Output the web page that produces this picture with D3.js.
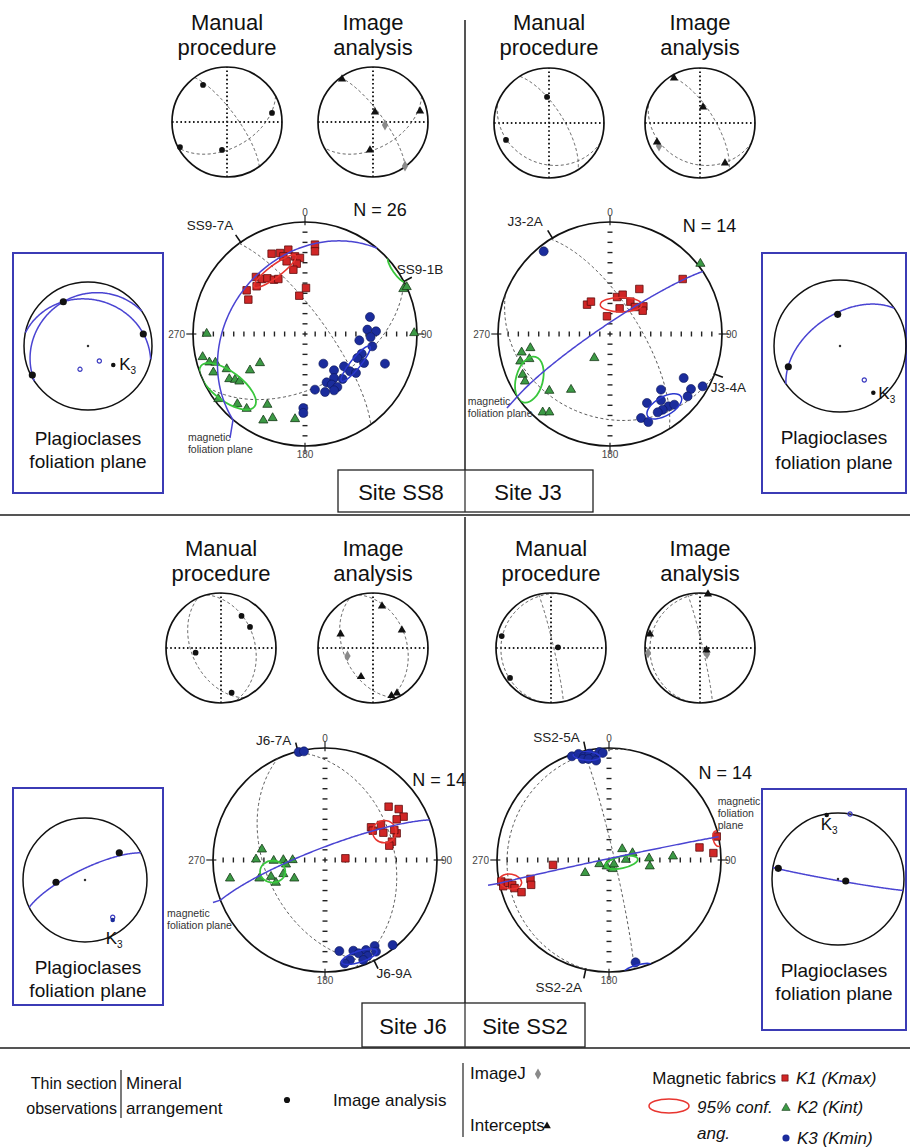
<!DOCTYPE html>
<html>
<head>
<meta charset="utf-8">
<script src="https://cdn.jsdelivr.net/npm/d3@7"></script>
<style>
  body { margin: 0; background: #fff; }
  svg { display: block; font-family: "Liberation Sans", Arial, sans-serif; }
</style>
</head>
<body>
<svg id="fig" width="910" height="1148"></svg>
<script>
// ---------------------------------------------------------------------------
// Data: point positions are given on the unit equal-area net (x = east, y = north);
// planes are [dip direction, dip] in degrees.
// ---------------------------------------------------------------------------

// Site SS8
const k1_SS8 = [[0.089,0.798],[0.089,0.738],[-0.149,0.753],[-0.223,0.723],[-0.298,0.717],[-0.193,0.693],
  [-0.089,0.693],[-0.045,0.679],[-0.164,0.649],[-0.074,0.628],[-0.104,0.574],[-0.438,0.509],[-0.387,0.491],
  [-0.336,0.497],[-0.277,0.485],[-0.238,0.491],[-0.432,0.426],[-0.521,0.390],[-0.506,0.307],[0.009,0.411],[-0.051,0.342]];
const k2_SS8 = [[-0.914,-0.205],[-0.854,-0.253],[-0.80,-0.255],[-0.818,-0.342],[-0.699,-0.313],[-0.676,-0.402],
  [-0.625,-0.408],[-0.586,-0.423],[-0.491,-0.324],[-0.402,-0.259],[-0.774,-0.580],[-0.604,-0.625],[-0.521,-0.667],
  [-0.336,-0.631],[-0.372,-0.771],[-0.289,-0.750],[-0.089,-0.759],[-0.878,0.003],[0.975,0.009],[0.878,0.402],[0.908,0.420]];
const k3_SS8 = [[0.580,0.152],[0.557,0.039],[0.634,0.024],[0.586,-0.027],[0.485,-0.057],[0.601,-0.110],[0.506,-0.176],
  [0.467,-0.214],[0.527,-0.259],[0.714,-0.265],[0.164,-0.265],[0.259,-0.324],[0.348,-0.289],[0.402,-0.333],[0.455,-0.348],
  [0.259,-0.393],[0.336,-0.402],[0.193,-0.432],[0.238,-0.452],[0.289,-0.473],[0.089,-0.497],[0.179,-0.518],[0.259,-0.503],
  [-0.015,-0.661],[-0.015,-0.705]];
// confidence ellipses: [kind, centre x, centre y, semi-major, semi-minor, angle of major axis (deg, ccw from east)]
const conf_SS8 = [["K1",-0.268,0.56,0.233,0.054,37],["K3",0.452,-0.265,0.20,0.045,51],
  ["K2",-0.69,-0.467,0.30,0.13,-37],["K2",0.819,0.574,0.13,0.035,-55]];
const planes_SS8 = [[54,75],[152,51]];
const foliation_SS8 = [310,33];

// Site J3
const k1_J3 = [[-0.205,0.262],[-0.170,0.289],[-0.027,0.158],[0.063,0.330],[0.113,0.351],[0.086,0.229],[0.182,0.289],
  [0.262,0.402],[0.223,0.241],[0.298,0.247],[0.292,0.208],[0.649,0.491]];
const k2_J3 = [[-0.789,-0.164],[-0.711,-0.125],[-0.801,-0.244],[-0.720,-0.223],[-0.780,-0.363],[-0.759,-0.423],
  [-0.542,-0.506],[-0.348,-0.497],[-0.140,-0.214],[-0.601,-0.699],[-0.542,-0.699],[0.807,0.628]];
const k3_J3 = [[-0.592,0.738],[0.658,-0.393],[0.455,-0.497],[0.723,-0.491],[0.827,-0.467],[0.693,-0.557],[0.330,-0.616],
  [0.455,-0.592],[0.521,-0.646],[0.470,-0.676],[0.426,-0.699],[0.277,-0.750],[0.342,-0.786],[0.574,-0.631]];
const conf_J3 = [["K1",0.098,0.262,0.185,0.065,0],["K2",-0.72,-0.408,0.21,0.12,75],["K3",0.485,-0.646,0.173,0.083,30]];
const planes_J3 = [[58,69],[201,26]];
const foliation_J3 = [326,83];

// Site J6
const k1_J6 = [[0.568,0.476],[0.658,0.455],[0.702,0.387],[0.640,0.363],[0.411,0.292],[0.500,0.313],[0.521,0.244],
  [0.640,0.238],[0.598,0.164],[0.574,0.128],[0.182,0.015],[0.426,0.262],[0.619,0.268]];
const k2_J6 = [[-0.563,0.095],[-0.616,0.006],[-0.458,-0.006],[-0.372,0],[-0.289,0],[-0.348,-0.039],[-0.848,-0.164],
  [-0.586,-0.164],[-0.482,-0.149],[-0.438,-0.202],[-0.372,-0.125],[-0.274,-0.164]];
const k3_J6 = [[-0.235,0.964],[-0.188,0.970],[0.128,-0.813],[0.253,-0.810],[0.301,-0.833],[0.366,-0.804],[0.443,-0.768],
  [0.604,-0.759],[0.455,-0.818],[0.381,-0.857],[0.342,-0.893],[0.223,-0.893],[0.176,-0.923]];
const conf_J6 = [["K1",0.530,0.253,0.105,0.10,0],["K2",-0.467,-0.104,0.113,0.098,0],["K3",0.307,-0.863,0.165,0.05,18]];
const planes_J6 = [[75,38],[245,46]];
const foliation_J6 = [339,81];

// Site SS2
const k1_SS2 = [[-0.962,-0.192],[-0.944,-0.234],[-0.902,-0.204],[-0.864,-0.222],[-0.843,-0.251],[-0.781,-0.287],
  [-0.701,-0.169],[-0.695,-0.222],[-0.5,-0.044],[0.808,0.112],[0.932,0.062],[0.962,0.210]];
const k2_SS2 = [[0.118,0.098],[0.210,0.062],[-0.086,-0.036],[-0.021,-0.056],[0.033,-0.080],[0.151,0.003],[0.358,0.015],
  [0.364,-0.056],[0.571,0.033],[-0.213,-0.115],[0.044,-0.038]];
const k3_SS2 = [[-0.331,0.926],[-0.272,0.947],[-0.222,0.926],[-0.175,0.950],[-0.127,0.926],[-0.086,0.964],[-0.056,0.956],
  [-0.234,0.902],[-0.183,0.902],[-0.115,0.888],[0.237,-0.914]];
const conf_SS2 = [["K1",-0.879,-0.192,0.10,0.065,-10],["K1",0.965,0.19,0.07,0.035,102],["K2",0.112,-0.021,0.148,0.053,12],
  ["K3",-0.2,0.93,0.12,0.04,-5],["K3",0.259,-0.966,0.12,0.03,15]];
const planes_SS2 = [[77,86],[280,10]];
const foliation_SS2 = [348,89];

// Thin-section lineations: manual procedure (dots), image analysis (intercepts = triangles, ImageJ = diamonds)
const manual_SS8 = [[-0.436,0.673],[0.818,0.164],[-0.855,-0.455],[-0.091,-0.509]];
const intercepts_SS8 = [[-0.564,0.782],[0.036,0.182],[0.855,0.2],[-0.055,-0.509]];
const imagej_SS8 = [[0.218,-0.055],[0.582,-0.8]];
const manual_J3 = [[-0.036,0.473],[-0.782,-0.309]];
const intercepts_J3 = [[-0.473,0.818],[0.055,0.291],[-0.782,-0.345],[0.455,-0.727]];
const imagej_J3 = [[-0.745,-0.418]];
const manual_J6 = [[0.373,0.582],[0.527,0.382],[-0.462,-0.085],[0.193,-0.813]];
const intercepts_J6 = [[0.164,0.764],[0.525,0.327],[-0.589,0.255],[-0.218,-0.522],[0.336,-0.867],[0.436,-0.818]];
const imagej_J6 = [[-0.464,-0.145]];
const manual_SS2 = [[-0.896,0.218],[0.127,0.013],[-0.745,-0.545]];
const intercepts_SS2 = [[0.145,0.98],[-0.91,0.255],[0.118,-0.036]];
const imagej_SS2 = [[-0.945,-0.091],[0.127,-0.109]];

// Plagioclase foliation planes (insets)
const plag_SS8 = {lineations:[[-0.386,0.692],[0.864,0.188],[-0.87,-0.453]], open:[[0.177,-0.234],[-0.125,-0.364]],
  k3:[0.395,-0.297], planes:[[12,28],[327,22]]};
const plag_J3 = {lineations:[[-0.035,0.48],[-0.783,-0.314]], open:[[0.368,-0.515]], k3:[0.505,-0.708], planes:[[325,52]]};
const plag_J6 = {lineations:[[0.553,0.44],[-0.468,-0.037]], open:[[0.447,-0.60]], k3:[0.447,-0.645], planes:[[334,76]]};
const plag_SS2 = {lineations:[[-0.905,0.162],[0.117,-0.03]], open:[[0.182,0.985]], k3:[-0.171,0.97], planes:[[190,88]]};

// Sample labels on the main nets: [text, azimuth of tick, label x, label y, anchor]
const samples_SS8 = [["SS9-7A",325,-0.64,0.93,"end"],["SS9-1B",62,0.82,0.54,"start"]];
const samples_J3 = [["J3-2A",329,-0.6,0.96,"end"],["J3-4A",111,0.9,-0.52,"start"]];
const samples_J6 = [["J6-7A",346,-0.3,1.03,"end"],["J6-9A",154,0.46,-1.05,"start"]];
const samples_SS2 = [["SS2-5A",348,-0.26,1.05,"end"],["SS2-2A",192,-0.24,-1.18,"end"]];

const sampleCount = {SS8:26, J3:14, J6:14, SS2:14};
const directionLabels = ["0","90","180","270"];

// ---------------------------------------------------------------------------
// Layout
// ---------------------------------------------------------------------------
const sites = [
  {id:"SS8", k1:k1_SS8, k2:k2_SS8, k3:k3_SS8, conf:conf_SS8, planes:planes_SS8, fol:foliation_SS8,
   samples:samples_SS8, manual:manual_SS8, inter:intercepts_SS8, ij:imagej_SS8, plag:plag_SS8,
   net:{cx:305, cy:334, r:112}, nLab:[0.43,1.05], folLab:{at:[-1.045,-0.955], lines:["magnetic","foliation plane"], lead:[-0.67,-0.93]},
   small:[{cx:227, cy:122},{cx:373, cy:122}], titleY:[30,55],
   inset:{x:13, y:253, w:150, h:240, cx:88, cy:346, r:64, textY:[445,468], k3Lab:[6,5]}},
  {id:"J3", k1:k1_J3, k2:k2_J3, k3:k3_J3, conf:conf_J3, planes:planes_J3, fol:foliation_J3,
   samples:samples_J3, manual:manual_J3, inter:intercepts_J3, ij:imagej_J3, plag:plag_J3,
   net:{cx:610, cy:334, r:112}, nLab:[0.65,0.91], folLab:{at:[-1.27,-0.63], lines:["magnetic","foliation plane"], lead:[-0.92,-0.66]},
   small:[{cx:549, cy:123},{cx:700, cy:123}], titleY:[30,55],
   inset:{x:762, y:253, w:144, h:240, cx:840, cy:346, r:66, textY:[444,469], k3Lab:[5,6]}},
  {id:"J6", k1:k1_J6, k2:k2_J6, k3:k3_J6, conf:conf_J6, planes:planes_J6, fol:foliation_J6,
   samples:samples_J6, manual:manual_J6, inter:intercepts_J6, ij:imagej_J6, plag:plag_J6,
   net:{cx:325, cy:860, r:112}, nLab:[0.78,0.66], folLab:{at:[-1.41,-0.51], lines:["magnetic","foliation plane"], lead:[-1.0,-0.38]},
   small:[{cx:221, cy:648},{cx:373, cy:648}], titleY:[556,581],
   inset:{x:13, y:788, w:150, h:217, cx:85, cy:880, r:62, textY:[974,997], k3Lab:[-7,24]}},
  {id:"SS2", k1:k1_SS2, k2:k2_SS2, k3:k3_SS2, conf:conf_SS2, planes:planes_SS2, fol:foliation_SS2,
   samples:samples_SS2, manual:manual_SS2, inter:intercepts_SS2, ij:imagej_SS2, plag:plag_SS2,
   net:{cx:609, cy:860, r:112}, nLab:[0.8,0.72], folLab:{at:[0.97,0.49], lines:["magnetic","foliation","plane"], lead:[-1.08,-0.225]},
   small:[{cx:551, cy:648},{cx:700, cy:648}], titleY:[556,581],
   inset:{x:762, y:789, w:144, h:241, cx:838, cy:879, r:66, textY:[977,1000], k3Lab:[-6,15]}}
];

const C = {
  k1Fill:"#d02626", k1Stroke:"#5e0c0c",
  k2Fill:"#3c9a45", k2Stroke:"#163818",
  k3Fill:"#1b2c9c", k3Stroke:"#0b1555",
  confK1:"#e8352f", confK2:"#39c63c", confK3:"#2b38cf",
  plane:"#4a44d2", dashed:"#555", frame:"#3b3bb5", rule:"#555"
};

const svg = d3.select("#fig");
const defs = svg.append("defs");
const rad = Math.PI / 180;

// Lower-hemisphere equal-area trace of a plane given by dip direction / dip.
function greatCircle(dipDir, dip, n = 180) {
  const st = (dipDir - 90) * rad, dd = dipDir * rad, dp = dip * rad;
  const s = [Math.sin(st), Math.cos(st)];
  const d = [Math.sin(dd) * Math.cos(dp), Math.cos(dd) * Math.cos(dp), Math.sin(dp)];
  return d3.range(n + 1).map(i => {
    const l = Math.PI * i / n;
    const x = Math.cos(l) * s[0] + Math.sin(l) * d[0];
    const y = Math.cos(l) * s[1] + Math.sin(l) * d[1];
    const z = Math.sin(l) * d[2];
    const k = 1 / Math.sqrt(1 + z);
    return [x * k, y * k];
  });
}
const onRim = az => [Math.sin(az * rad), Math.cos(az * rad)];

function netScales(cx, cy, r) {
  return {
    x: d3.scaleLinear().domain([-1, 1]).range([cx - r, cx + r]),
    y: d3.scaleLinear().domain([-1, 1]).range([cy + r, cy - r])
  };
}

const sym = (type, size) => d3.symbol().type(type).size(size);

// ---------------------------------------------------------------------------
// Frame: rules, site boxes
// ---------------------------------------------------------------------------
svg.append("line").attr("x1",0).attr("x2",910).attr("y1",515).attr("y2",515).attr("stroke",C.rule).attr("stroke-width",2);
svg.append("line").attr("x1",0).attr("x2",910).attr("y1",1048).attr("y2",1048).attr("stroke",C.rule).attr("stroke-width",2);
svg.append("line").attr("x1",465).attr("x2",465).attr("y1",20).attr("y2",470).attr("stroke",C.rule).attr("stroke-width",2);
svg.append("line").attr("x1",465).attr("x2",465).attr("y1",517).attr("y2",1003).attr("stroke",C.rule).attr("stroke-width",2);

const siteBoxes = [
  {x:338, y:470, w:255, h:42, labels:[["Site SS8",401],["Site J3",528]], ty:500},
  {x:362, y:1003, w:223, h:44, labels:[["Site J6",413],["Site SS2",525]], ty:1034}
];
siteBoxes.forEach(b => {
  svg.append("rect").attr("x",b.x).attr("y",b.y).attr("width",b.w).attr("height",b.h)
    .attr("fill","#fff").attr("stroke","#222").attr("stroke-width",1.3);
  svg.append("line").attr("x1",465).attr("x2",465).attr("y1",b.y).attr("y2",b.y+b.h).attr("stroke","#333").attr("stroke-width",1.3);
  b.labels.forEach(([t, x]) => svg.append("text").attr("x",x).attr("y",b.ty).attr("text-anchor","middle")
    .attr("font-size",22).attr("fill","#111").text(t));
});

// ---------------------------------------------------------------------------
// Main AMS nets
// ---------------------------------------------------------------------------
function drawMainNet(s) {
  const {cx, cy, r} = s.net;
  const {x, y} = netScales(cx, cy, r);
  const g = svg.append("g");
  const clipId = "clip-" + s.id;
  defs.append("clipPath").attr("id", clipId).append("circle").attr("cx", cx).attr("cy", cy).attr("r", r);
  const line = d3.line().x(p => x(p[0])).y(p => y(p[1]));

  // graduated cross
  const tv = d3.range(-10, 11).map(k => k / 11);
  g.selectAll(".tx").data(tv).join("line")
    .attr("x1", t => x(t)).attr("x2", t => x(t)).attr("y1", y(0) - 2.5).attr("y2", y(0) + 2.5)
    .attr("stroke", "#222").attr("stroke-width", 1.4);
  g.selectAll(".ty").data(tv).join("line")
    .attr("y1", t => y(t)).attr("y2", t => y(t)).attr("x1", x(0) - 2.5).attr("x2", x(0) + 2.5)
    .attr("stroke", "#222").attr("stroke-width", 1.4);
  // cardinal ticks and labels
  const card = [[0, 1], [1, 0], [0, -1], [-1, 0]];
  g.selectAll(".ct").data(card).join("line")
    .attr("x1", d => x(d[0] * 0.97)).attr("y1", d => y(d[1] * 0.97))
    .attr("x2", d => x(d[0] * 1.06)).attr("y2", d => y(d[1] * 1.06))
    .attr("stroke", "#222").attr("stroke-width", 1.2);
  const labPos = [[x(0), y(1) - 6, "middle"], [x(1) + 4, y(0) + 4, "start"], [x(0), y(-1) + 12, "middle"], [x(-1) - 8, y(0) + 4, "end"]];
  g.selectAll(".cl").data(directionLabels).join("text")
    .attr("x", (d, i) => labPos[i][0]).attr("y", (d, i) => labPos[i][1]).attr("text-anchor", (d, i) => labPos[i][2])
    .attr("font-size", 10).attr("fill", "#444").text(d => d);

  // primitive
  g.append("circle").attr("cx", cx).attr("cy", cy).attr("r", r).attr("fill", "none").attr("stroke", "#111").attr("stroke-width", 1.7);

  // sample planes
  g.selectAll(".pl").data(s.planes).join("path")
    .attr("d", p => line(greatCircle(p[0], p[1])))
    .attr("fill", "none").attr("stroke", C.dashed).attr("stroke-width", 1).attr("stroke-dasharray", "3,2.5");

  // sample ticks and labels
  s.samples.forEach(([t, az, lx, ly, anchor]) => {
    const a = onRim(az);
    g.append("line").attr("x1", x(a[0] * 0.99)).attr("y1", y(a[1] * 0.99))
      .attr("x2", x(a[0] * 1.08)).attr("y2", y(a[1] * 1.08)).attr("stroke", "#111").attr("stroke-width", 1.6);
    g.append("text").attr("x", x(lx)).attr("y", y(ly)).attr("text-anchor", anchor)
      .attr("font-size", 13.5).attr("fill", "#222").text(t);
  });

  // principal axes
  g.selectAll(".k2").data(s.k2).join("path")
    .attr("transform", p => `translate(${x(p[0])},${y(p[1])})`)
    .attr("d", sym(d3.symbolTriangle, 36)).attr("fill", C.k2Fill).attr("stroke", C.k2Stroke).attr("stroke-width", 0.8);
  g.selectAll(".k1").data(s.k1).join("path")
    .attr("transform", p => `translate(${x(p[0])},${y(p[1])})`)
    .attr("d", sym(d3.symbolSquare, 56)).attr("fill", C.k1Fill).attr("stroke", C.k1Stroke).attr("stroke-width", 0.8);
  g.selectAll(".k3").data(s.k3).join("path")
    .attr("transform", p => `translate(${x(p[0])},${y(p[1])})`)
    .attr("d", sym(d3.symbolCircle, 64)).attr("fill", C.k3Fill).attr("stroke", C.k3Stroke).attr("stroke-width", 0.6);

  // 95% confidence ellipses
  const confColor = {K1: C.confK1, K2: C.confK2, K3: C.confK3};
  g.append("g").attr("clip-path", `url(#${clipId})`).selectAll("ellipse").data(s.conf).join("ellipse")
    .attr("cx", e => x(e[1])).attr("cy", e => y(e[2]))
    .attr("rx", e => x(e[3]) - x(0)).attr("ry", e => x(e[4]) - x(0))
    .attr("transform", e => `rotate(${-e[5]},${x(e[1])},${y(e[2])})`)
    .attr("fill", "none").attr("stroke", e => confColor[e[0]]).attr("stroke-width", e => e[0] === "K2" ? 1.8 : 1.5);

  // magnetic foliation plane + leader to its label
  const fp = greatCircle(s.fol[0], s.fol[1]);
  g.append("path").attr("d", line(fp)).attr("fill", "none").attr("stroke", C.plane).attr("stroke-width", 1.5);
  g.append("path").attr("d", line([fp[0], s.folLab.lead])).attr("fill", "none").attr("stroke", C.plane).attr("stroke-width", 1.5);
  s.folLab.lines.forEach((t, i) => g.append("text").attr("x", x(s.folLab.at[0])).attr("y", y(s.folLab.at[1]) + i * 12)
    .attr("font-size", 10.5).attr("fill", "#333").text(t));

  g.append("text").attr("x", x(s.nLab[0])).attr("y", y(s.nLab[1])).attr("font-size", 18).attr("fill", "#111")
    .text("N = " + sampleCount[s.id]);
}

// ---------------------------------------------------------------------------
// Small nets: manual procedure and image analysis
// ---------------------------------------------------------------------------
function drawSmallNet(s, pos, kind, title) {
  const r = 55;
  const {x, y} = netScales(pos.cx, pos.cy, r);
  const g = svg.append("g");
  const line = d3.line().x(p => x(p[0])).y(p => y(p[1]));
  title.forEach((t, i) => g.append("text").attr("x", pos.cx).attr("y", s.titleY[i]).attr("text-anchor", "middle")
    .attr("font-size", 22).attr("fill", "#111").text(t));
  g.append("line").attr("x1", x(-1)).attr("x2", x(1)).attr("y1", y(0)).attr("y2", y(0))
    .attr("stroke", "#222").attr("stroke-width", 2).attr("stroke-dasharray", "1.6,2.6");
  g.append("line").attr("y1", y(-1)).attr("y2", y(1)).attr("x1", x(0)).attr("x2", x(0))
    .attr("stroke", "#222").attr("stroke-width", 2).attr("stroke-dasharray", "1.6,2.6");
  g.selectAll(".pl").data(s.planes).join("path")
    .attr("d", p => line(greatCircle(p[0], p[1])))
    .attr("fill", "none").attr("stroke", C.dashed).attr("stroke-width", 1).attr("stroke-dasharray", "3,2.5");
  g.append("circle").attr("cx", pos.cx).attr("cy", pos.cy).attr("r", r).attr("fill", "none").attr("stroke", "#111").attr("stroke-width", 1.7);
  if (kind === "manual") {
    g.selectAll(".m").data(s.manual).join("path")
      .attr("transform", p => `translate(${x(p[0])},${y(p[1])})`).attr("d", sym(d3.symbolCircle, 26)).attr("fill", "#111");
  } else {
    g.selectAll(".ij").data(s.ij).join("path")
      .attr("transform", p => `translate(${x(p[0])},${y(p[1])})`).attr("d", sym(d3.symbolDiamond, 34)).attr("fill", "#8a8a8a");
    g.selectAll(".it").data(s.inter).join("path")
      .attr("transform", p => `translate(${x(p[0])},${y(p[1])})`).attr("d", sym(d3.symbolTriangle, 30)).attr("fill", "#111");
  }
}

// ---------------------------------------------------------------------------
// Insets: plagioclase foliation plane
// ---------------------------------------------------------------------------
function drawInset(s) {
  const b = s.inset, p = s.plag;
  const {x, y} = netScales(b.cx, b.cy, b.r);
  const g = svg.append("g");
  const line = d3.line().x(q => x(q[0])).y(q => y(q[1]));
  g.append("rect").attr("x", b.x).attr("y", b.y).attr("width", b.w).attr("height", b.h)
    .attr("fill", "#fff").attr("stroke", C.frame).attr("stroke-width", 2);
  g.append("circle").attr("cx", b.cx).attr("cy", b.cy).attr("r", b.r).attr("fill", "none").attr("stroke", "#111").attr("stroke-width", 1.5);
  g.selectAll(".pp").data(p.planes).join("path").attr("d", q => line(greatCircle(q[0], q[1])))
    .attr("fill", "none").attr("stroke", C.plane).attr("stroke-width", 1.5);
  g.append("path").attr("transform", `translate(${x(0)},${y(0)})`).attr("d", sym(d3.symbolCircle, 5)).attr("fill", "#333");
  g.selectAll(".ln").data(p.lineations).join("path").attr("transform", q => `translate(${x(q[0])},${y(q[1])})`)
    .attr("d", sym(d3.symbolCircle, 40)).attr("fill", "#111");
  g.selectAll(".op").data(p.open).join("path").attr("transform", q => `translate(${x(q[0])},${y(q[1])})`)
    .attr("d", sym(d3.symbolCircle, 14)).attr("fill", "none").attr("stroke", "#3b3bc0").attr("stroke-width", 1.2);
  g.append("path").attr("transform", `translate(${x(p.k3[0])},${y(p.k3[1])})`)
    .attr("d", sym(d3.symbolCircle, 16)).attr("fill", s.id === "J6" ? C.k3Fill : "#111");
  const kt = g.append("text").attr("x", x(p.k3[0]) + b.k3Lab[0]).attr("y", y(p.k3[1]) + b.k3Lab[1])
    .attr("font-size", 17).attr("fill", "#111");
  kt.append("tspan").text("K");
  kt.append("tspan").attr("font-size", 10).attr("dy", 4).text("3");
  ["Plagioclases", "foliation plane"].forEach((t, i) => g.append("text").attr("x", b.x + b.w / 2).attr("y", b.textY[i])
    .attr("text-anchor", "middle").attr("font-size", 19).attr("fill", "#111").text(t));
}

sites.forEach(s => {
  drawMainNet(s);
  drawSmallNet(s, s.small[0], "manual", ["Manual", "procedure"]);
  drawSmallNet(s, s.small[1], "image", ["Image", "analysis"]);
  drawInset(s);
});

// ---------------------------------------------------------------------------
// Legend: [text, x, baseline, italic, anchor, size]
// ---------------------------------------------------------------------------
const lg = svg.append("g").attr("fill", "#111");
const legendText = [
  ["Thin section", 117, 1089, false, "end", 16], ["observations", 117, 1114, false, "end", 16],
  ["Mineral", 126, 1089, false, "start", 17], ["arrangement", 126, 1114, false, "start", 17],
  ["Image analysis", 333, 1106, false, "start", 17],
  ["ImageJ", 470, 1079, false, "start", 17], ["Intercepts", 470, 1131, false, "start", 17],
  ["Magnetic fabrics", 776, 1084, false, "end", 17], ["K1 (Kmax)", 796, 1084, true, "start", 17],
  ["95% conf.", 697, 1113, true, "start", 17], ["ang.", 697, 1139, true, "start", 17],
  ["K2 (Kint)", 797, 1113, true, "start", 17], ["K3 (Kmin)", 797, 1144, true, "start", 17]
];
lg.selectAll("text").data(legendText).join("text")
  .attr("x", d => d[1]).attr("y", d => d[2]).attr("font-style", d => d[3] ? "italic" : "normal")
  .attr("text-anchor", d => d[4]).attr("font-size", d => d[5]).text(d => d[0]);
lg.append("line").attr("x1", 121).attr("x2", 121).attr("y1", 1070).attr("y2", 1118).attr("stroke", "#222").attr("stroke-width", 1.2);
lg.append("line").attr("x1", 463).attr("x2", 463).attr("y1", 1063).attr("y2", 1137).attr("stroke", "#222").attr("stroke-width", 1.2);
lg.append("path").attr("transform", "translate(287,1100)").attr("d", sym(d3.symbolCircle, 30)).attr("fill", "#111");
lg.append("path").attr("transform", "translate(538,1074)").attr("d", sym(d3.symbolDiamond, 34)).attr("fill", "#8a8a8a");
lg.append("path").attr("transform", "translate(547,1126)").attr("d", sym(d3.symbolTriangle, 26)).attr("fill", "#111");
lg.append("path").attr("transform", "translate(785,1078)").attr("d", sym(d3.symbolSquare, 40)).attr("fill", C.k1Fill).attr("stroke", C.k1Stroke).attr("stroke-width", 0.6);
lg.append("path").attr("transform", "translate(786,1108)").attr("d", sym(d3.symbolTriangle, 30)).attr("fill", C.k2Fill).attr("stroke", C.k2Stroke).attr("stroke-width", 0.6);
lg.append("path").attr("transform", "translate(786,1138)").attr("d", sym(d3.symbolCircle, 40)).attr("fill", C.k3Fill);
lg.append("ellipse").attr("cx", 669).attr("cy", 1106).attr("rx", 20).attr("ry", 7).attr("fill", "none").attr("stroke", C.confK1).attr("stroke-width", 1.5);
</script>
</body>
</html>
